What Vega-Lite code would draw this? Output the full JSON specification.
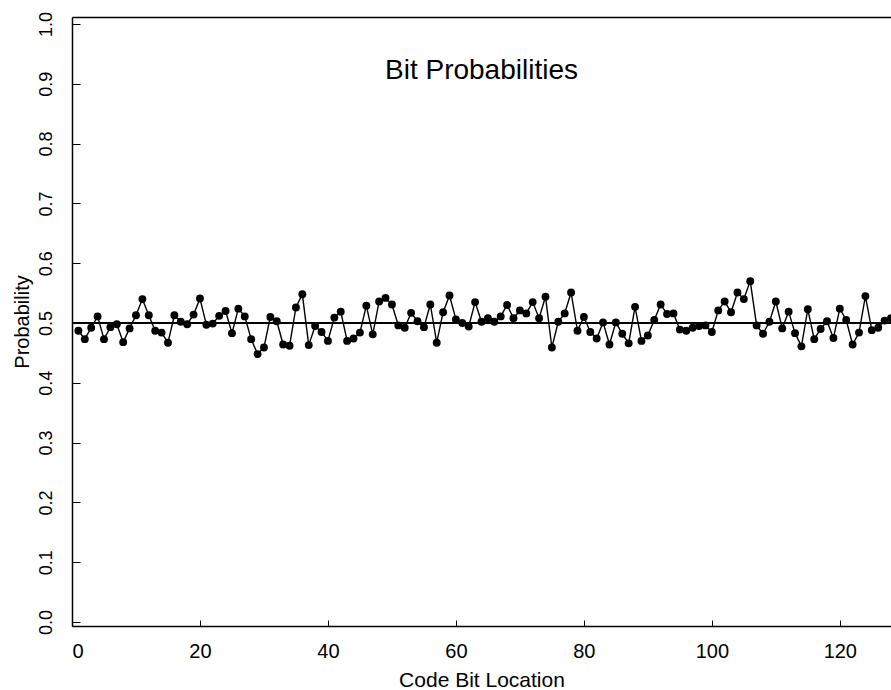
{
  "$schema": "https://vega.github.io/schema/vega-lite/v6.json",
  "width": 819,
  "height": 609,
  "autosize": {"type": "none"},
  "padding": {"left": 72, "top": 17, "right": 0, "bottom": 64},
  "background": "white",
  "config": {
    "view": {"stroke": null},
    "font": "Liberation Sans",
    "axis": {
      "domainColor": "black",
      "domainWidth": 1.5,
      "tickColor": "black",
      "labelColor": "black",
      "titleColor": "black",
      "titleFontWeight": "normal",
      "labelFont": "Liberation Sans",
      "titleFont": "Liberation Sans",
      "grid": false
    }
  },
  "title": {
    "text": "Bit Probabilities",
    "fontSize": 28,
    "fontWeight": "normal",
    "font": "Liberation Sans",
    "color": "black",
    "anchor": "middle",
    "frame": "group",
    "baseline": "alphabetic",
    "offset": -96
  },
  "data": {
    "values": [
      {"bit": 1, "p": 0.487}, {"bit": 2, "p": 0.473}, {"bit": 3, "p": 0.492}, {"bit": 4, "p": 0.511},
      {"bit": 5, "p": 0.473}, {"bit": 6, "p": 0.493}, {"bit": 7, "p": 0.498}, {"bit": 8, "p": 0.468},
      {"bit": 9, "p": 0.491}, {"bit": 10, "p": 0.513}, {"bit": 11, "p": 0.540}, {"bit": 12, "p": 0.513},
      {"bit": 13, "p": 0.487}, {"bit": 14, "p": 0.484}, {"bit": 15, "p": 0.467}, {"bit": 16, "p": 0.513},
      {"bit": 17, "p": 0.502}, {"bit": 18, "p": 0.498}, {"bit": 19, "p": 0.514}, {"bit": 20, "p": 0.541},
      {"bit": 21, "p": 0.497}, {"bit": 22, "p": 0.499}, {"bit": 23, "p": 0.512}, {"bit": 24, "p": 0.520},
      {"bit": 25, "p": 0.483}, {"bit": 26, "p": 0.524}, {"bit": 27, "p": 0.511}, {"bit": 28, "p": 0.473},
      {"bit": 29, "p": 0.448}, {"bit": 30, "p": 0.459}, {"bit": 31, "p": 0.510}, {"bit": 32, "p": 0.503},
      {"bit": 33, "p": 0.464}, {"bit": 34, "p": 0.462}, {"bit": 35, "p": 0.526}, {"bit": 36, "p": 0.548},
      {"bit": 37, "p": 0.463}, {"bit": 38, "p": 0.495}, {"bit": 39, "p": 0.485}, {"bit": 40, "p": 0.470},
      {"bit": 41, "p": 0.509}, {"bit": 42, "p": 0.519}, {"bit": 43, "p": 0.470}, {"bit": 44, "p": 0.474},
      {"bit": 45, "p": 0.484}, {"bit": 46, "p": 0.529}, {"bit": 47, "p": 0.481}, {"bit": 48, "p": 0.536},
      {"bit": 49, "p": 0.542}, {"bit": 50, "p": 0.531}, {"bit": 51, "p": 0.496}, {"bit": 52, "p": 0.492},
      {"bit": 53, "p": 0.517}, {"bit": 54, "p": 0.503}, {"bit": 55, "p": 0.493}, {"bit": 56, "p": 0.531},
      {"bit": 57, "p": 0.467}, {"bit": 58, "p": 0.518}, {"bit": 59, "p": 0.546}, {"bit": 60, "p": 0.506},
      {"bit": 61, "p": 0.500}, {"bit": 62, "p": 0.494}, {"bit": 63, "p": 0.535}, {"bit": 64, "p": 0.502},
      {"bit": 65, "p": 0.508}, {"bit": 66, "p": 0.502}, {"bit": 67, "p": 0.511}, {"bit": 68, "p": 0.530},
      {"bit": 69, "p": 0.508}, {"bit": 70, "p": 0.521}, {"bit": 71, "p": 0.516}, {"bit": 72, "p": 0.535},
      {"bit": 73, "p": 0.508}, {"bit": 74, "p": 0.544}, {"bit": 75, "p": 0.459}, {"bit": 76, "p": 0.502},
      {"bit": 77, "p": 0.516}, {"bit": 78, "p": 0.551}, {"bit": 79, "p": 0.487}, {"bit": 80, "p": 0.510},
      {"bit": 81, "p": 0.485}, {"bit": 82, "p": 0.474}, {"bit": 83, "p": 0.501}, {"bit": 84, "p": 0.464},
      {"bit": 85, "p": 0.501}, {"bit": 86, "p": 0.482}, {"bit": 87, "p": 0.466}, {"bit": 88, "p": 0.527},
      {"bit": 89, "p": 0.470}, {"bit": 90, "p": 0.479}, {"bit": 91, "p": 0.505}, {"bit": 92, "p": 0.531},
      {"bit": 93, "p": 0.515}, {"bit": 94, "p": 0.516}, {"bit": 95, "p": 0.489}, {"bit": 96, "p": 0.487},
      {"bit": 97, "p": 0.492}, {"bit": 98, "p": 0.495}, {"bit": 99, "p": 0.496}, {"bit": 100, "p": 0.485},
      {"bit": 101, "p": 0.521}, {"bit": 102, "p": 0.536}, {"bit": 103, "p": 0.518}, {"bit": 104, "p": 0.551},
      {"bit": 105, "p": 0.540}, {"bit": 106, "p": 0.570}, {"bit": 107, "p": 0.496}, {"bit": 108, "p": 0.482},
      {"bit": 109, "p": 0.502}, {"bit": 110, "p": 0.536}, {"bit": 111, "p": 0.491}, {"bit": 112, "p": 0.519},
      {"bit": 113, "p": 0.483}, {"bit": 114, "p": 0.461}, {"bit": 115, "p": 0.523}, {"bit": 116, "p": 0.473},
      {"bit": 117, "p": 0.490}, {"bit": 118, "p": 0.503}, {"bit": 119, "p": 0.475}, {"bit": 120, "p": 0.524},
      {"bit": 121, "p": 0.505}, {"bit": 122, "p": 0.464}, {"bit": 123, "p": 0.484}, {"bit": 124, "p": 0.545},
      {"bit": 125, "p": 0.488}, {"bit": 126, "p": 0.492}, {"bit": 127, "p": 0.504}, {"bit": 128, "p": 0.508}
    ]
  },
  "layer": [
    {
      "mark": {"type": "rule", "color": "black", "strokeWidth": 1.5},
      "encoding": {
        "y": {
          "datum": 0.5, "type": "quantitative",
          "scale": {"domain": [-0.0067, 1.0117], "nice": false, "zero": false},
          "axis": {
            "title": "Probability",
            "titleFontSize": 20,
            "titlePadding": 5,
            "values": [0, 0.1, 0.2, 0.3, 0.4, 0.5, 0.6, 0.7, 0.8, 0.9, 1.0],
            "format": ".1f",
            "labelAngle": -90,
            "labelAlign": "center",
            "labelBaseline": "alphabetic",
            "labelFontSize": 18,
            "tickSize": -8,
            "labelPadding": 29
          }
        }
      }
    },
    {
      "mark": {"type": "line", "color": "black", "strokeWidth": 1.4},
      "encoding": {
        "x": {
          "field": "bit", "type": "quantitative",
          "scale": {"domain": [0, 128], "nice": false, "zero": false},
          "axis": {"orient": "top", "labels": false, "ticks": false, "title": null, "domain": true}
        },
        "y": {
          "field": "p", "type": "quantitative",
          "axis": {
            "title": "Probability",
            "titleFontSize": 20,
            "titlePadding": 5,
            "values": [0, 0.1, 0.2, 0.3, 0.4, 0.5, 0.6, 0.7, 0.8, 0.9, 1.0],
            "format": ".1f",
            "labelAngle": -90,
            "labelAlign": "center",
            "labelBaseline": "alphabetic",
            "labelFontSize": 18,
            "tickSize": -8,
            "labelPadding": 29
          }
        }
      }
    },
    {
      "mark": {"type": "point", "filled": true, "color": "black", "size": 62, "opacity": 1},
      "encoding": {
        "x": {
          "field": "bit", "type": "quantitative",
          "axis": {
            "orient": "bottom",
            "title": "Code Bit Location",
            "titleFontSize": 21,
            "titlePadding": 8,
            "values": [0, 20, 40, 60, 80, 100, 120],
            "labelFontSize": 20,
            "tickSize": -6,
            "labelPadding": 21
          }
        },
        "y": {
          "field": "p", "type": "quantitative",
          "axis": {
            "title": "Probability",
            "titleFontSize": 20,
            "titlePadding": 5,
            "values": [0, 0.1, 0.2, 0.3, 0.4, 0.5, 0.6, 0.7, 0.8, 0.9, 1.0],
            "format": ".1f",
            "labelAngle": -90,
            "labelAlign": "center",
            "labelBaseline": "alphabetic",
            "labelFontSize": 18,
            "tickSize": -8,
            "labelPadding": 29
          }
        }
      }
    }
  ],
  "resolve": {"axis": {"x": "independent"}}
}
